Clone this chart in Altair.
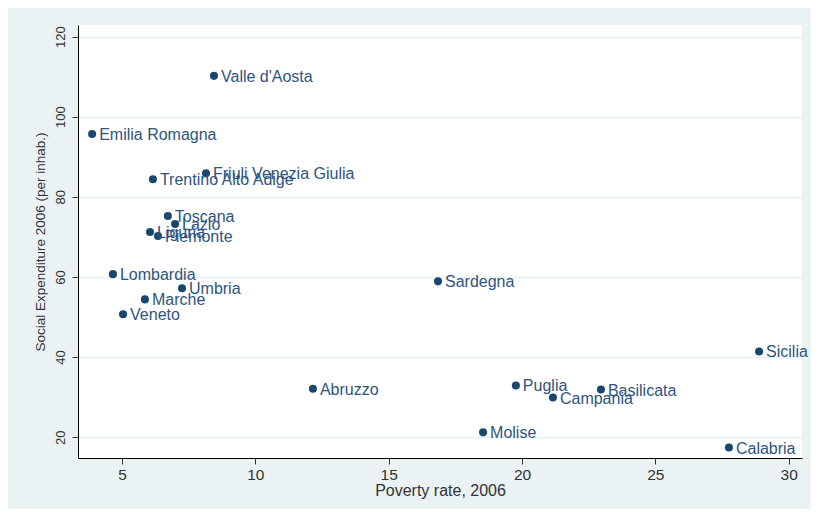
import altair as alt
import pandas as pd

regions = ["Valle d'Aosta", "Emilia Romagna", "Friuli Venezia Giulia", "Trentino Alto Adige",
           "Toscana", "Lazio", "Liguria", "Piemonte", "Lombardia", "Umbria", "Marche", "Veneto",
           "Sardegna", "Abruzzo", "Puglia", "Campania", "Basilicata", "Molise", "Sicilia", "Calabria"]
poverty = [8.45, 3.88, 8.15, 6.16, 6.72, 6.99, 6.05, 6.35, 4.66, 7.25, 5.86, 5.04,
           16.85, 12.16, 19.77, 21.16, 22.96, 18.54, 28.89, 27.76]
expenditure = [110.2, 95.7, 85.9, 84.4, 75.2, 73.2, 71.2, 70.2, 60.7, 57.2, 54.4, 50.7,
               58.9, 32.1, 32.9, 29.9, 31.9, 21.2, 41.4, 17.4]

x_ticks = [5, 10, 15, 20, 25, 30]
y_ticks = [20, 40, 60, 80, 100, 120]

df = pd.DataFrame({"region": regions, "poverty": poverty, "exp": expenditure})

FONT = "Liberation Sans"
NAVY = "#1a476f"

x = alt.X("poverty:Q", title="Poverty rate, 2006",
          scale=alt.Scale(domain=[3.35, 30.5], nice=False, zero=False),
          axis=alt.Axis(values=x_ticks, grid=False, tickSize=6, labelPadding=3,
                        labelFontSize=15.5, titleFontSize=16, titlePadding=0,
                        labelFlush=False))
y = alt.Y("exp:Q", title="Social Expenditure 2006 (per inhab.)",
          scale=alt.Scale(domain=[14.8, 122.9], nice=False, zero=False),
          axis=alt.Axis(values=y_ticks, grid=True, gridColor="#eaf2f3", gridWidth=2,
                        tickSize=6, labelAngle=270, labelAlign="center",
                        labelBaseline="bottom", labelPadding=5, labelFontSize=13,
                        titleFontSize=13.5, titlePadding=7, labelFlush=False))

points = alt.Chart(df).mark_circle(size=65, color=NAVY, opacity=1).encode(x=x, y=y)
labels = alt.Chart(df).mark_text(align="left", baseline="middle", dx=7, dy=1,
                                 fontSize=16, font=FONT, color="#2e5480").encode(
    x="poverty:Q", y="exp:Q", text="region:N")

chart = (points + labels).properties(
    width=724, height=433,
    autosize=alt.AutoSizeParams(type="none"),
    padding={"left": 70, "top": 17, "right": 9, "bottom": 51},
    background="#eaf2f3",
).configure_view(fill="white", stroke=None).configure_axis(
    labelFont=FONT, titleFont=FONT, labelColor="#333333", titleColor="#333333",
    titleFontWeight="normal", domainColor="#000000", domainWidth=1,
    tickColor="#333333", tickWidth=1,
)

chart.save("out.html", embed_options={"renderer": "svg", "actions": False})
